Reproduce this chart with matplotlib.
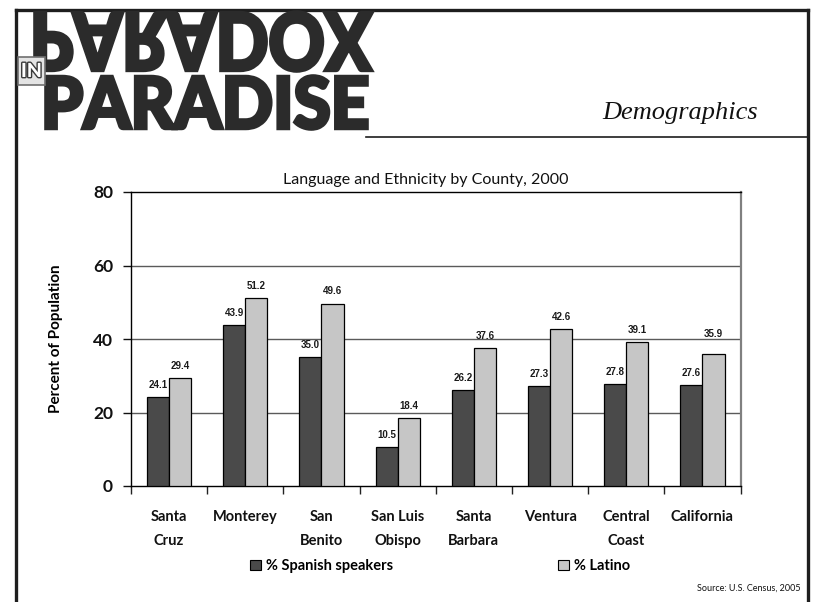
import matplotlib
matplotlib.use("Agg")
import matplotlib.pyplot as plt
import matplotlib.patheffects as pe
import numpy as np
from matplotlib.textpath import TextPath
from matplotlib.font_manager import FontProperties
from matplotlib.patches import PathPatch, Rectangle
from matplotlib.transforms import Affine2D

# ---- data ----
counties = ["Santa\nCruz", "Monterey", "San\nBenito", "San Luis\nObispo",
            "Santa\nBarbara", "Ventura", "Central\nCoast", "California"]
spanish_speakers = [24.1, 43.9, 35.0, 10.5, 26.2, 27.3, 27.8, 27.6]
latino = [29.4, 51.2, 49.6, 18.4, 37.6, 42.6, 39.1, 35.9]
series_names = ["% Spanish speakers", "% Latino"]
y_ticks = [0, 20, 40, 60, 80]

SANS = ["Lato", "DejaVu Sans"]
plt.rcParams["font.family"] = SANS

W, H = 813, 602
fig = plt.figure(figsize=(W / 100, H / 100), dpi=100)

# ---- page frame, header and logo (pixel coordinates) ----
page = fig.add_axes([0, 0, 1, 1], zorder=0)
page.set_xlim(0, W)
page.set_ylim(H, 0)
page.axis("off")

ink = "#1e1e1e"
page.plot([15.5, 807.5], [9.5, 9.5], color=ink, lw=2.4, solid_capstyle="projecting")
page.plot([15.5, 15.5], [9.5, H], color=ink, lw=2.4)
page.plot([807.5, 807.5], [9.5, H], color=ink, lw=2.4)
page.plot([366, 807], [137, 137], color=ink, lw=1.2)

logo_font = FontProperties(family=SANS, weight="black")
logo_col = "#2b2b2b"


def word_patch(word, x0, x1, ytop, ybot, flip=False):
    tp = TextPath((0, 0), word, size=100, prop=logo_font)
    ext = tp.get_extents()
    sx = (x1 - x0) / ext.width
    if flip:
        # mirrored top-to-bottom: glyph bottoms sit at the top edge
        tr = (Affine2D().translate(-ext.x0, -ext.y0)
              .scale(sx, (ybot - ytop) / ext.height).translate(x0, ytop))
    else:
        tr = (Affine2D().translate(-ext.x0, -ext.y0)
              .scale(sx, -(ybot - ytop) / ext.height).translate(x0, ybot))
    p = tr.transform_path(tp)
    page.add_patch(PathPatch(p, facecolor=logo_col, edgecolor=logo_col, lw=2.6,
                             joinstyle="miter", zorder=2))


word_patch("PARADOX", 35, 372, 12, 71, flip=True)
word_patch("PARADISE", 46, 367, 76, 129)

# small "IN" badge
page.add_patch(Rectangle((18, 57), 27, 28, facecolor="#e4e4e4",
                         edgecolor="#6f6f6f", lw=1.2, zorder=3))
page.text(31.5, 71.5, "IN", ha="center", va="center", fontsize=14,
          fontweight="black", color="white", zorder=4,
          path_effects=[pe.withStroke(linewidth=2.0, foreground="#3a3a3a")])

page.text(680, 113, "Demographics", ha="center", va="center", fontsize=19,
          style="italic", family=["Liberation Serif", "DejaVu Serif"], color="#111111")

page.text(426, 180, "Language and Ethnicity by County, 2000", ha="center",
          va="center", fontsize=11.5, color="#111111")

page.text(800, 591, "Source: U.S. Census, 2005", ha="right", va="baseline",
          fontsize=6.5, color="#111111")

# ---- bar chart ----
ax_l, ax_r, ax_t, ax_b = 131, 740.5, 192, 486
ax = fig.add_axes([ax_l / W, 1 - ax_b / H, (ax_r - ax_l) / W, (ax_b - ax_t) / H], zorder=1)

x = np.arange(len(counties))
bw = 0.29
dark, light = "#4a4a4a", "#c6c6c6"
b1 = ax.bar(x - bw / 2, spanish_speakers, bw, color=dark, edgecolor="black",
            lw=0.9, label=series_names[0], zorder=3)
b2 = ax.bar(x + bw / 2, latino, bw, color=light, edgecolor="black",
            lw=0.9, label=series_names[1], zorder=3)

lab_font = dict(fontsize=7, fontweight="bold", family=["Liberation Sans", "DejaVu Sans"],
                color="#1a1a1a", ha="center", va="center")
for xi, v in zip(x, spanish_speakers):
    ax.annotate(f"{v:.1f}", (xi - bw / 2, v), xytext=(0, 8.6),
                textcoords="offset points", **lab_font)
for i, (xi, v) in enumerate(zip(x, latino)):
    lift = 14.4 if i == len(latino) - 1 else 8.8
    ax.annotate(f"{v:.1f}", (xi + bw / 2, v), xytext=(0, lift),
                textcoords="offset points", **lab_font)

ax.set_xlim(-0.5, len(counties) - 0.5)
ax.set_ylim(0, 80)
ax.set_yticks(y_ticks)
ax.set_yticklabels([str(t) for t in y_ticks], fontsize=12.5, fontweight="bold")
ax.tick_params(axis="y", direction="out", length=6, width=1, pad=7, colors="#111111")

ax.set_xticks(x)
ax.set_xticklabels(counties, fontsize=10.5, fontweight="bold", linespacing=1.9)
ax.tick_params(axis="x", which="major", length=0, pad=17, colors="#111111")
ax.set_xticks(np.arange(-0.5, len(counties)), minor=True)
ax.tick_params(axis="x", which="minor", direction="out", length=6, width=1, color="#222222")

for g in [20, 40, 60]:
    ax.axhline(g, color="#5a5a5a", lw=1.0, zorder=1)

for s in ["left", "top", "bottom"]:
    ax.spines[s].set_color("black")
    ax.spines[s].set_linewidth(1.0)
ax.spines["right"].set_color("#808080")
ax.spines["right"].set_linewidth(1.6)

ax.set_ylabel("Percent of Population", fontsize=11, fontweight="bold")
ax.yaxis.set_label_coords((63 - ax_l) / (ax_r - ax_l), 0.5)

leg = fig.legend(handles=[b1, b2], labels=series_names, loc="center",
                 bbox_to_anchor=(440 / W, 1 - 566 / H), ncol=2, frameon=False,
                 prop=dict(family=SANS, weight="bold", size=10.5),
                 handlelength=0.75, handleheight=0.75, handletextpad=0.35,
                 columnspacing=11.3, borderaxespad=0)
for h in leg.legend_handles:
    h.set_linewidth(0.8)

fig.savefig("out.png", dpi=100)
